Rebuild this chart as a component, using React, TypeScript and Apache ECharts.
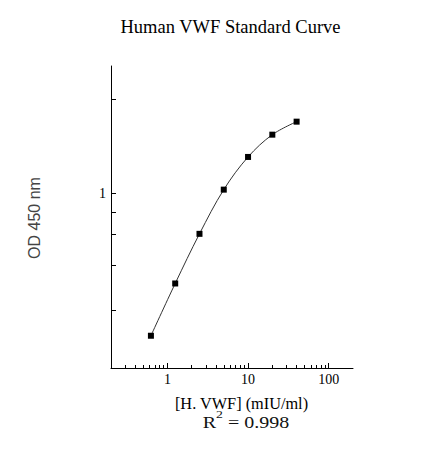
import React, { useEffect, useRef } from "react";
import * as echarts from "echarts";

// Standard concentrations (mIU/ml) and measured OD 450 nm
const concentrations = [0.625, 1.25, 2.5, 5, 10, 20, 40];
const odValues = [0.213, 0.376, 0.645, 1.043, 1.488, 1.896, 2.184];

// Axis ticks
const xMajorTicks = [1, 10, 100];
const xMinorTicks = [
  0.3, 0.4, 0.5, 0.6, 0.7, 0.8, 0.9,
  2, 3, 4, 5, 6, 7, 8, 9,
  20, 30, 40, 50, 60, 70, 80, 90,
];
const yTicks = [0.28, 0.46, 0.64, 0.82, 1, 2.8];
const yTickLabels = [1];

const titleText = "Human VWF Standard Curve";
const xName = "[H. VWF] (mIU/ml)";
const yName = "OD 450 nm";
const r2Value = "0.998";

const SERIF = '"Liberation Serif", "Times New Roman", serif';
const SANS = '"Liberation Sans", Arial, sans-serif';

export default function App() {
  const ref = useRef<HTMLDivElement>(null);
  useEffect(() => {
    if (!ref.current) return;
    const chart = echarts.init(ref.current, undefined, { renderer: "svg" });
    const option: any = {
      animation: false,
      backgroundColor: "#fff",
      grid: {
        left: 111,
        right: 86,
        top: 66,
        bottom: 89,
        containLabel: false,
        outerBoundsMode: "none",
      },
      xAxis: [
        {
          type: "log",
          logBase: 10,
          min: 0.2,
          max: 200,
          position: "bottom",
          axisLine: { show: true, onZero: false, lineStyle: { color: "#000", width: 1 } },
          axisTick: {
            show: true,
            inside: true,
            length: 5,
            customValues: xMajorTicks,
            lineStyle: { color: "#000", width: 1 },
          },
          axisLabel: {
            show: true,
            customValues: xMajorTicks,
            margin: 4,
            color: "#000",
            fontSize: 14,
            fontFamily: SERIF,
          },
          splitLine: { show: false },
          minorTick: { show: false },
        },
        {
          type: "log",
          logBase: 10,
          min: 0.2,
          max: 200,
          position: "bottom",
          axisLine: { show: false, onZero: false },
          axisTick: {
            show: true,
            inside: true,
            length: 3,
            customValues: xMinorTicks,
            lineStyle: { color: "#000", width: 1 },
          },
          axisLabel: { show: false },
          splitLine: { show: false },
        },
      ],
      yAxis: {
        type: "log",
        logBase: 10,
        min: 0.15,
        max: 4,
        axisLine: { show: true, onZero: false, lineStyle: { color: "#000", width: 1 } },
        axisTick: {
          show: true,
          inside: true,
          length: 5,
          customValues: yTicks,
          lineStyle: { color: "#000", width: 1 },
        },
        axisLabel: {
          show: true,
          customValues: yTickLabels,
          margin: 5,
          color: "#000",
          fontSize: 14,
          fontFamily: SERIF,
        },
        splitLine: { show: false },
      },
      series: [
        {
          type: "line",
          xAxisIndex: 0,
          yAxisIndex: 0,
          data: concentrations.map((c, i) => [c, odValues[i]]),
          smooth: 0.35,
          symbol: "rect",
          symbolSize: 6,
          lineStyle: { color: "#333", width: 1 },
          itemStyle: { color: "#000" },
        },
      ],
      graphic: [
        {
          type: "text",
          x: 230.5,
          y: 27,
          style: {
            text: titleText,
            fontSize: 18.5,
            fontFamily: SERIF,
            fill: "#000",
            align: "center",
            verticalAlign: "middle",
          },
        },
        {
          type: "text",
          x: 241.5,
          y: 403.5,
          style: {
            text: xName,
            fontSize: 16.3,
            fontFamily: SERIF,
            fill: "#000",
            align: "center",
            verticalAlign: "middle",
          },
        },
        {
          type: "text",
          x: 246,
          y: 420,
          scaleX: 1.25,
          style: {
            text: "{a|R}{s|2}{a| = " + r2Value + "}",
            fontSize: 16,
            fontFamily: SERIF,
            fill: "#111",
            align: "center",
            verticalAlign: "middle",
            rich: {
              a: { fontSize: 16, lineHeight: 22, fontFamily: SERIF, fill: "#111", verticalAlign: "bottom" },
              s: { fontSize: 11, lineHeight: 11, fontFamily: SERIF, fill: "#111", verticalAlign: "top" },
            },
          },
        },
        {
          type: "text",
          x: 34,
          y: 218,
          rotation: Math.PI / 2,
          style: {
            text: yName,
            fontSize: 16,
            fontFamily: SANS,
            fill: "#444",
            align: "center",
            verticalAlign: "middle",
          },
        },
      ],
    };
    chart.setOption(option);
    return () => chart.dispose();
  }, []);
  return (
    <div
      ref={ref}
      style={{ position: "fixed", left: 0, top: 0, width: 439, height: 457 }}
    />
  );
}
